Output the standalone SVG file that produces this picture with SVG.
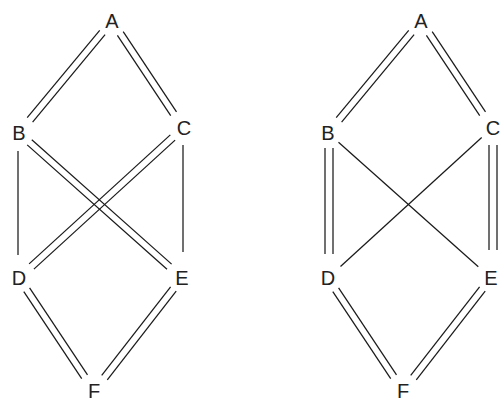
<svg xmlns="http://www.w3.org/2000/svg" width="504" height="402" viewBox="0 0 504 402">
<style>
.l{stroke:#1a1a1a;stroke-width:1.25;fill:none}
.t{font-family:"Liberation Sans",Arial,sans-serif;font-size:20px;fill:#222;text-anchor:middle}
</style>
<rect width="504" height="402" fill="#fff"/>
<g id="left">
<g id="connectors-left">
<line class="l" x1="99.7" y1="30.3" x2="27.2" y2="117.7"/><line class="l" x1="105.1" y1="34.7" x2="32.6" y2="122.1"/>
<line class="l" x1="123.2" y1="31.6" x2="176.5" y2="111.9"/><line class="l" x1="117.4" y1="35.4" x2="170.7" y2="115.7"/>
<line class="l" x1="18" y1="151" x2="18" y2="255"/>
<line class="l" x1="183" y1="145" x2="183" y2="252"/>
<line class="l" x1="31.8" y1="139.7" x2="171.6" y2="264.1"/><line class="l" x1="27.2" y1="144.9" x2="167" y2="269.3"/>
<line class="l" x1="175.1" y1="140.1" x2="33.9" y2="269.1"/><line class="l" x1="170.3" y1="134.9" x2="29.1" y2="263.9"/>
<line class="l" x1="29.6" y1="287.8" x2="87.5" y2="374.9"/><line class="l" x1="23.8" y1="291.6" x2="81.7" y2="378.7"/>
<line class="l" x1="176.2" y1="291.2" x2="107.3" y2="379.8"/><line class="l" x1="170.6" y1="286.8" x2="101.7" y2="375.4"/>
</g>
<g id="L-A"><text class="t" x="112" y="28">A</text></g>
<g id="L-B"><text class="t" x="19" y="140">B</text></g>
<g id="L-C"><text class="t" x="184" y="135">C</text></g>
<g id="L-D"><text class="t" x="19" y="285">D</text></g>
<g id="L-E"><text class="t" x="182" y="285">E</text></g>
<g id="L-F"><text class="t" x="94" y="398">F</text></g>
</g>
<g id="right" transform="translate(309,0)">
<g id="connectors-right">
<line class="l" x1="99.7" y1="30.3" x2="27.2" y2="117.7"/><line class="l" x1="105.1" y1="34.7" x2="32.6" y2="122.1"/>
<line class="l" x1="123.2" y1="31.6" x2="176.5" y2="111.9"/><line class="l" x1="117.4" y1="35.4" x2="170.7" y2="115.7"/>
<line class="l" x1="16" y1="148" x2="16" y2="254"/><line class="l" x1="24" y1="148" x2="24" y2="254"/>
<line class="l" x1="180" y1="145" x2="180" y2="250"/><line class="l" x1="188" y1="145" x2="188" y2="250"/>
<line class="l" x1="29.5" y1="142.3" x2="169.3" y2="266.7"/>
<line class="l" x1="172.7" y1="137.5" x2="31.5" y2="266.5"/>
<line class="l" x1="29.6" y1="287.8" x2="87.5" y2="374.9"/><line class="l" x1="23.8" y1="291.6" x2="81.7" y2="378.7"/>
<line class="l" x1="176.2" y1="291.2" x2="107.3" y2="379.8"/><line class="l" x1="170.6" y1="286.8" x2="101.7" y2="375.4"/>
</g>
<g id="R-A"><text class="t" x="112" y="28">A</text></g>
<g id="R-B"><text class="t" x="19" y="140">B</text></g>
<g id="R-C"><text class="t" x="184" y="135">C</text></g>
<g id="R-D"><text class="t" x="19" y="285">D</text></g>
<g id="R-E"><text class="t" x="182" y="285">E</text></g>
<g id="R-F"><text class="t" x="94" y="398">F</text></g>
</g>
</svg>
